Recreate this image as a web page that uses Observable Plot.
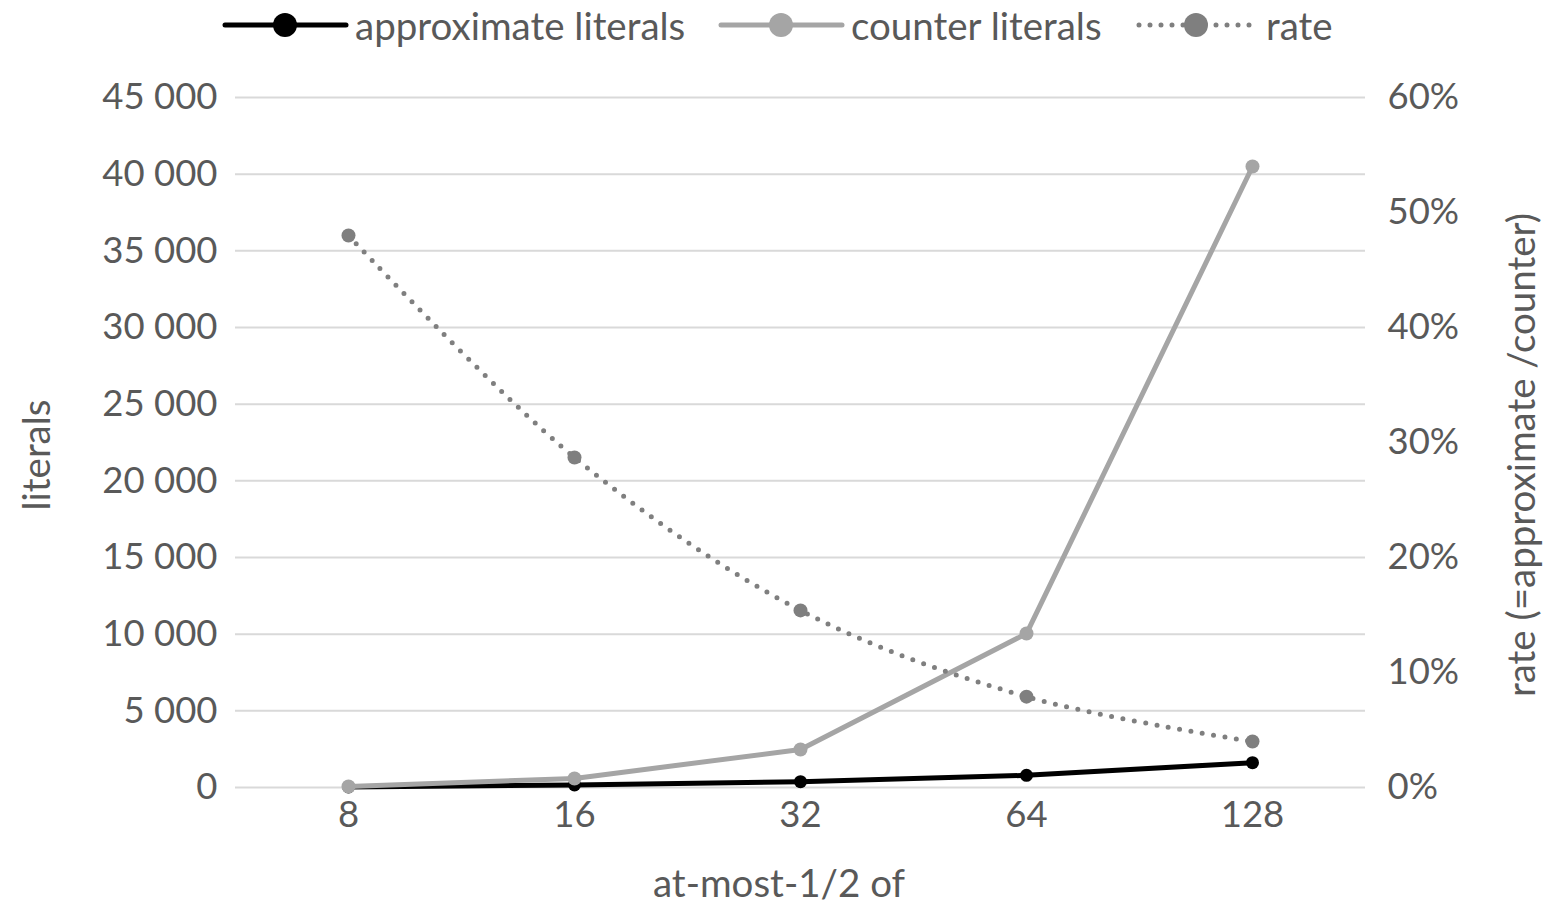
<!DOCTYPE html>
<html>
<head>
<meta charset="utf-8">
<script src="https://cdn.jsdelivr.net/npm/d3@7"></script>
<script src="https://cdn.jsdelivr.net/npm/@observablehq/plot@0.6"></script>
<style>
  html, body { margin: 0; padding: 0; background: white; }
  body { position: relative; width: 1548px; height: 906px; overflow: hidden; font-family: Lato, sans-serif; color: #595959; }
  #legend { position: relative; height: 50px; }
  .item { position: absolute; top: 0; height: 50px; display: flex; align-items: center; font-size: 38.5px; white-space: nowrap; }
  .item svg { margin-right: 6px; }
  .title { position: absolute; font-size: 38.5px; line-height: 1.1; white-space: nowrap; transform: translate(-50%, -50%); }
  .title.rot { transform: translate(-50%, -50%) rotate(-90deg); }
</style>
</head>
<body>
<div id="legend"></div>
<div id="chart"></div>
<script>
// ---- data ----
const categories = ["8", "16", "32", "64", "128"];
const approximateLiterals = [31, 169, 382, 793, 1620];
const counterLiterals = [64, 590, 2480, 10040, 40500];
const rate = [0.48, 0.287, 0.154, 0.079, 0.04];
const leftTicks = [0, 5000, 10000, 15000, 20000, 25000, 30000, 35000, 40000, 45000];
const rightTicks = [0, 0.1, 0.2, 0.3, 0.4, 0.5, 0.6];
const seriesNames = ["approximate literals", "counter literals", "rate"];
const titles = { left: "literals", right: "rate (=approximate /counter)", bottom: "at-most-1/2 of" };

// ---- styles ----
const colors = { "approximate literals": "#000000", "counter literals": "#a5a5a5", "rate": "#7f7f7f" };
const leftMax = 45000, rightMax = 0.6;
const rScale = leftMax / rightMax; // map rate onto left scale

const rows = categories.map((c, i) => ({
  cat: c,
  approx: approximateLiterals[i],
  counter: counterLiterals[i],
  rateY: rate[i] * rScale
}));

const fmtLeft = d => d3.format(",")(d).replace(/,/g, " ");
const fmtRight = d => Math.round(d / rScale * 100) + "%";

const chart = Plot.plot({
  width: 1548,
  height: 856,
  marginLeft: 235,
  marginRight: 183,
  marginTop: 47,
  marginBottom: 119,
  style: { fontFamily: "Lato, sans-serif", fontSize: "36.5px", color: "#595959", background: "white", overflow: "visible" },
  x: { type: "point", domain: categories, padding: 0.5 },
  y: { domain: [0, leftMax] },
  marks: [
    Plot.gridY(leftTicks, { stroke: "#d9d9d9", strokeOpacity: 1, strokeWidth: 2 }),
    Plot.axisX({ tickSize: 0, tickPadding: 14, label: null }),
    Plot.axisY(leftTicks, { anchor: "left", tickSize: 0, tickPadding: 18, tickFormat: fmtLeft, label: null }),
    Plot.axisY(rightTicks.map(t => t * rScale), { anchor: "right", tickSize: 0, tickPadding: 22, tickFormat: fmtRight, label: null }),
    // approximate literals
    Plot.line(rows, { x: "cat", y: "approx", stroke: colors["approximate literals"], strokeWidth: 5 }),
    Plot.dot(rows, { x: "cat", y: "approx", r: 6.5, fill: colors["approximate literals"] }),
    // counter literals
    Plot.line(rows, { x: "cat", y: "counter", stroke: colors["counter literals"], strokeWidth: 5 }),
    Plot.dot(rows, { x: "cat", y: "counter", r: 7, fill: colors["counter literals"] }),
    // rate
    Plot.line(rows, { x: "cat", y: "rateY", stroke: colors["rate"], strokeWidth: 5, strokeDasharray: "0,11.5", strokeLinecap: "round", curve: "catmull-rom" }),
    Plot.dot(rows, { x: "cat", y: "rateY", r: 7, fill: colors["rate"] })
  ]
});
document.getElementById("chart").appendChild(chart);

// ---- axis titles ----
const body = d3.select("body");
body.append("div").attr("class", "title rot").style("left", "35px").style("top", "455px").text(titles.left);
body.append("div").attr("class", "title rot").style("left", "1520px").style("top", "455px").text(titles.right);
body.append("div").attr("class", "title").style("left", "779px").style("top", "882px").text(titles.bottom);

// ---- legend ----
const legendPos = [222, 718, 1133];
const legend = d3.select("#legend");
seriesNames.forEach((name, i) => {
  const item = legend.append("div").attr("class", "item").style("left", legendPos[i] + "px");
  const svg = item.append("svg").attr("width", 127).attr("height", 50);
  const line = svg.append("line").attr("x1", 3).attr("x2", 124).attr("y1", 25).attr("y2", 25)
    .attr("stroke", colors[name]).attr("stroke-linecap", "round");
  if (name === "rate") {
    line.attr("stroke-width", 5).attr("stroke-dasharray", "0,11").attr("x1", 6).attr("x2", 122);
  } else {
    line.attr("stroke-width", 5);
  }
  svg.append("circle").attr("cx", 63).attr("cy", 25).attr("r", 12).attr("fill", colors[name]);
  item.append("span").text(name);
});
</script>
</body>
</html>
